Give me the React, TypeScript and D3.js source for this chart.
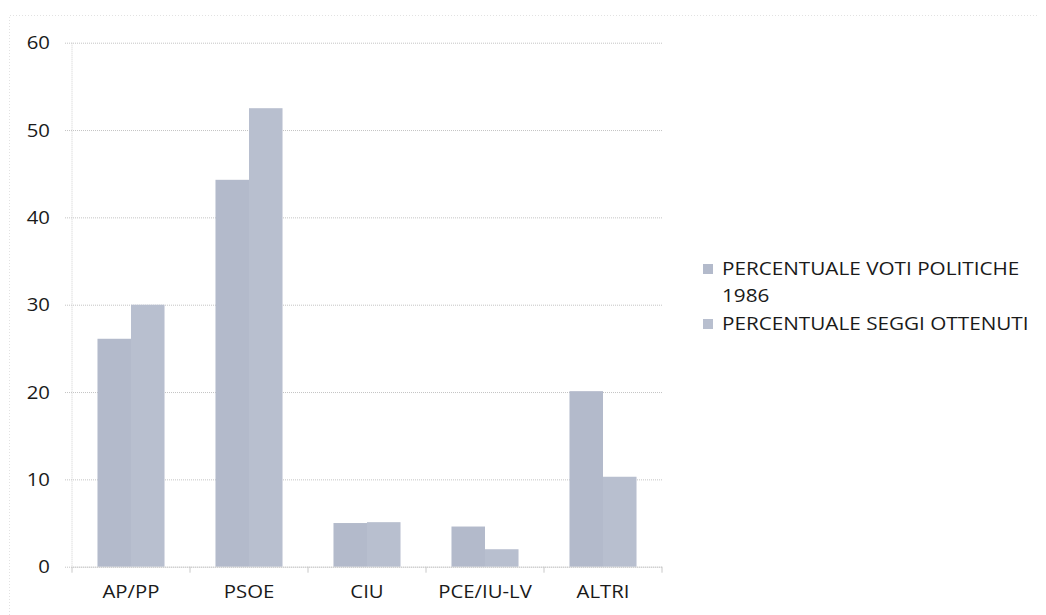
import { useEffect, useRef } from 'react'
import * as d3 from 'd3'

const categories = ['AP/PP', 'PSOE', 'CIU', 'PCE/IU-LV', 'ALTRI']
const seriesNames = ['PERCENTUALE VOTI POLITICHE 1986', 'PERCENTUALE SEGGI OTTENUTI']
const votiPolitiche = [26.1, 44.3, 5.0, 4.6, 20.1]
const seggiOttenuti = [30.0, 52.5, 5.1, 2.0, 10.3]
const yTicks = [0, 10, 20, 30, 40, 50, 60]

const seriesColors = ['#b3bacb', '#b8bfcf']
const FONT = '"Open Sans", Lato, sans-serif'
const FONT_SIZE = '18.5px'
const SX = 1.1 // scanned text is a bit wider than the font
const TEXT_COLOR = '#1a1a1a'

export default function App() {
  const svgRef = useRef<SVGSVGElement>(null)

  useEffect(() => {
    const svgEl = svgRef.current
    if (!svgEl) return

    const width = 1046
    const height = 615
    const plot = { left: 72, right: 662, top: 42.7, bottom: 566.7 }

    const svg = d3.select(svgEl)
    svg.attr('width', width).attr('height', height).selectAll('*').remove()

    svg.append('rect').attr('width', width).attr('height', height).style('fill', '#fff')

    // faint chart-area border
    svg.append('path')
      .attr('d', `M9.5,${height} V15.5 H${width - 8}`)
      .style('fill', 'none')
      .style('stroke', '#e2e2e2')
      .style('stroke-dasharray', '1 2')

    const x0 = d3.scaleBand<string>().domain(categories).range([plot.left, plot.right])
    const x1 = d3.scaleBand<number>()
      .domain([0, 1])
      .range([0, x0.bandwidth()])
      .paddingInner(0)
      .paddingOuter(0.76)
    const y = d3.scaleLinear().domain([0, 60]).range([plot.bottom, plot.top])

    // gridlines
    const grid = svg.append('g').attr('transform', `translate(${plot.left},0)`)
    grid.call(
      d3.axisLeft(y)
        .tickValues(yTicks)
        .tickSize(-(plot.right - plot.left))
        .tickSizeOuter(0)
        .tickFormat(() => ''),
    )
    grid.select('.domain').remove()
    grid.selectAll('.tick line')
      .attr('x1', -7)
      .style('stroke', '#c4c4c4')
      .style('stroke-dasharray', '1 1')

    // y axis line
    svg.append('line')
      .attr('x1', plot.left).attr('x2', plot.left)
      .attr('y1', y(60)).attr('y2', y(0))
      .style('stroke', '#cfcfcf')
      .style('stroke-dasharray', '1 1')

    // y tick labels
    svg.append('g')
      .selectAll('text')
      .data(yTicks)
      .join('text')
      .attr('transform', d => `translate(50,${y(d)}) scale(${SX},1)`)
      .attr('dy', '0.36em')
      .attr('text-anchor', 'end')
      .style('font-family', FONT)
      .style('font-size', FONT_SIZE)
      .style('fill', TEXT_COLOR)
      .text(d => d)

    // bars
    const values = [votiPolitiche, seggiOttenuti]
    values.forEach((vals, s) => {
      svg.append('g')
        .selectAll('rect')
        .data(vals)
        .join('rect')
        .attr('x', (_, i) => (x0(categories[i]) ?? 0) + (x1(s) ?? 0))
        .attr('y', d => y(d))
        .attr('width', x1.bandwidth())
        .attr('height', d => y(0) - y(d))
        .style('fill', seriesColors[s])
    })

    // x axis
    const xAxisG = svg.append('g').attr('transform', `translate(0,${y(0)})`)
    xAxisG.call(
      d3.axisBottom(x0)
        .tickSize(0)
        .tickSizeOuter(0)
        .tickFormat(() => ''),
    )
    xAxisG.selectAll('.tick').remove()
    xAxisG.select('.domain')
      .style('stroke', '#c4c4c4')
      .style('stroke-dasharray', '1 1')

    // category boundary ticks
    const boundaries = categories.map(c => x0(c) ?? 0).concat([plot.right])
    xAxisG.selectAll('line.bound')
      .data(boundaries)
      .join('line')
      .attr('class', 'bound')
      .attr('x1', d => d).attr('x2', d => d)
      .attr('y1', 0).attr('y2', 6)
      .style('stroke', '#c8c8c8')

    // category labels
    svg.append('g')
      .selectAll('text')
      .data(categories)
      .join('text')
      .attr('transform', d => `translate(${(x0(d) ?? 0) + x0.bandwidth() / 2},598) scale(${SX},1)`)
      .attr('text-anchor', 'middle')
      .style('font-family', FONT)
      .style('font-size', FONT_SIZE)
      .style('fill', TEXT_COLOR)
      .text(d => d)

    // legend
    const legend = svg.append('g')
    const legendRows = [
      { lines: ['PERCENTUALE VOTI POLITICHE', '1986'], baseline: 275 },
      { lines: ['PERCENTUALE SEGGI OTTENUTI'], baseline: 330 },
    ]
    legendRows.forEach((row, s) => {
      legend.append('rect')
        .attr('x', 703)
        .attr('y', row.baseline - 11)
        .attr('width', 10)
        .attr('height', 10)
        .style('fill', seriesColors[s])
        .append('title').text(seriesNames[s])
      const t = legend.append('text')
        .attr('transform', `translate(722,${row.baseline}) scale(1.12,1)`)
        .style('font-family', FONT)
        .style('font-size', FONT_SIZE)
        .style('fill', TEXT_COLOR)
      row.lines.forEach((ln, k) => {
        t.append('tspan')
          .attr('x', 0)
          .attr('dy', k === 0 ? 0 : 27)
          .text(ln)
      })
    })
  }, [])

  return (
    <div style={{ position: 'absolute', left: 0, top: 0, width: 1046, height: 615 }}>
      <svg ref={svgRef} style={{ display: 'block' }} />
    </div>
  )
}
